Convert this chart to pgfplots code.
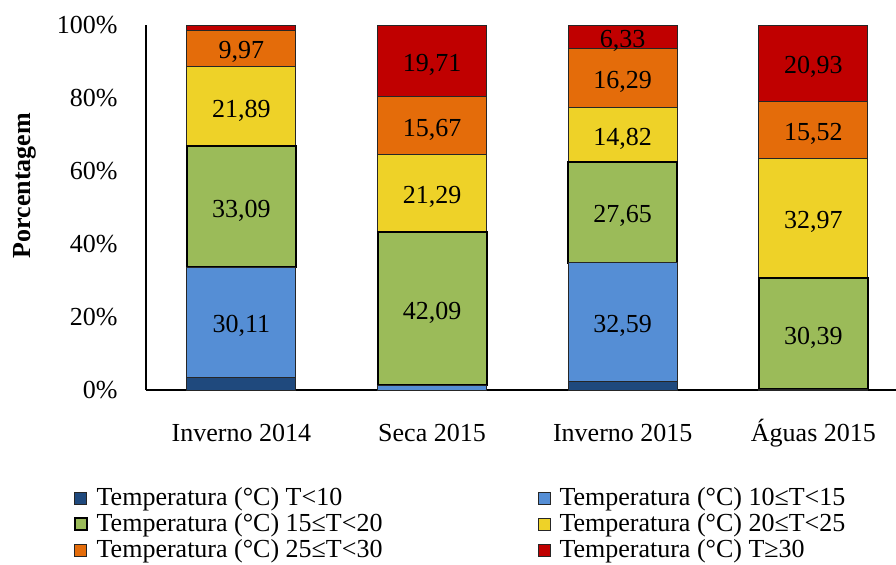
\documentclass[border=0pt]{standalone}
\usepackage{fontspec}
\setmainfont{Liberation Serif}
\usepackage{pgfplots}
\usepackage{pgfplotstable}
\pgfplotsset{compat=1.18}

\definecolor{tA}{RGB}{31,73,125}
\definecolor{tB}{RGB}{85,142,213}
\definecolor{tC}{RGB}{155,187,89}
\definecolor{tD}{RGB}{238,210,40}
\definecolor{tE}{RGB}{228,108,10}
\definecolor{tF}{RGB}{192,0,0}

\newcommand\cf{\rmfamily\fontsize{13}{15}\selectfont}

% share (%) of hours in each temperature class, per period
\pgfplotstableread{
x  a     b      c      d      e      f
0  3.56  30.11  33.09  21.89  9.97   1.38
1  0     1.24   42.09  21.29  15.67  19.71
2  2.32  32.59  27.65  14.82  16.29  6.33
3  0     0.19   30.39  32.97  15.52  20.93
}\temps

\pgfplotsset{
  /pgf/number format/assume math mode=true,
  frame/.style={scale only axis, width=375pt, height=182.5pt,
    xmin=-0.5, xmax=3.433, ymin=0, ymax=100},
  seg/.style={fill=#1, draw=black!85, line width=0.5pt},
  lbl/.style={draw=none, no markers, point meta=explicit,
    nodes near coords={\pgfmathprintnumber[fixed, fixed zerofill, precision=2, use comma]{\pgfplotspointmeta}},
    every node near coord/.append style={anchor=center, font=\cf, inner sep=0pt, text=black, yshift=-2pt}},
}

\begin{document}
\begin{tikzpicture}
\begin{axis}[frame, name=main,
  ybar stacked, bar width=0.572,
  axis x line*=bottom, axis y line*=left,
  axis line style={line width=0.8pt, -},
  major tick length=0pt,
  xtick={0,1,2,3},
  xticklabels={Inverno 2014, Seca 2015, Inverno 2015, Águas 2015},
  xticklabel style={font=\cf, anchor=base, inner sep=0pt, yshift=-25.5pt},
  ytick={0,20,...,100},
  yticklabel={\pgfmathprintnumber{\tick}\%},
  yticklabel style={font=\cf, anchor=east, inner sep=0pt, xshift=-14pt},
  ylabel={\bfseries Porcentagem},
  every axis y label/.style={at={(axis description cs:-0.161,0.56)}, rotate=90, anchor=center, font=\cf},
  legend columns=2,
  legend image code/.code={\draw[#1] (0pt,-3pt) rectangle (6pt,3pt);},
  legend style={draw=none, fill=none, inner sep=0pt, anchor=north west,
    at={(axis description cs:-0.097,-0.26)}, font=\cf,
    nodes={inner sep=0pt, text height=10pt, text depth=3pt},
    /tikz/every odd column/.append style={column sep=4.5pt},
    /tikz/every even column/.append style={column sep=77.5pt}},
  legend cell align=left,
]
\addplot[seg=tA] table[x=x, y=a] {\temps};
\addlegendentry{Temperatura (°C) T<10}
\addplot[seg=tB] table[x=x, y=b] {\temps};
\addlegendentry{Temperatura (°C) 10≤T<15}
\addplot[seg=tC, draw=black, line width=1pt] table[x=x, y=c] {\temps};
\addlegendentry{Temperatura (°C) 15≤T<20}
\addplot[seg=tD] table[x=x, y=d] {\temps};
\addlegendentry{Temperatura (°C) 20≤T<25}
\addplot[seg=tE] table[x=x, y=e] {\temps};
\addlegendentry{Temperatura (°C) 25≤T<30}
\addplot[seg=tF] table[x=x, y=f] {\temps};
\addlegendentry{Temperatura (°C) T≥30}
\end{axis}

% value labels centred in each segment (only classes above 5 %)
\begin{axis}[frame, hide axis]
\addplot[lbl, restrict expr to domain={\thisrow{b}}{5:1000}]
  table[x=x, y expr=\thisrow{a}+0.5*\thisrow{b}, meta=b] {\temps};
\addplot[lbl, restrict expr to domain={\thisrow{c}}{5:1000}]
  table[x=x, y expr=\thisrow{a}+\thisrow{b}+0.5*\thisrow{c}, meta=c] {\temps};
\addplot[lbl, restrict expr to domain={\thisrow{d}}{5:1000}]
  table[x=x, y expr=\thisrow{a}+\thisrow{b}+\thisrow{c}+0.5*\thisrow{d}, meta=d] {\temps};
\addplot[lbl, restrict expr to domain={\thisrow{e}}{5:1000}]
  table[x=x, y expr=\thisrow{a}+\thisrow{b}+\thisrow{c}+\thisrow{d}+0.5*\thisrow{e}, meta=e] {\temps};
\addplot[lbl, restrict expr to domain={\thisrow{f}}{5:1000}]
  table[x=x, y expr=\thisrow{a}+\thisrow{b}+\thisrow{c}+\thisrow{d}+\thisrow{e}+0.5*\thisrow{f}, meta=f] {\temps};
\end{axis}

\pgfresetboundingbox
\path[use as bounding box] ([xshift=-73pt,yshift=-87pt]main.south west) rectangle ([yshift=12.5pt]main.north east);
\end{tikzpicture}
\end{document}
